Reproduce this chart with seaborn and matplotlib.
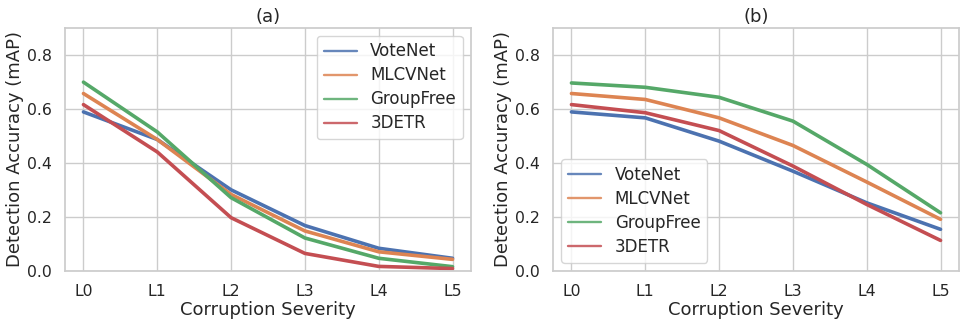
import matplotlib
matplotlib.use("Agg")
import matplotlib.pyplot as plt
import seaborn as sns
import pandas as pd

levels = ["L0", "L1", "L2", "L3", "L4", "L5"]
models = ["VoteNet", "MLCVNet", "GroupFree", "3DETR"]

# panel (a)
a_votenet = [0.588, 0.486, 0.300, 0.168, 0.084, 0.047]
a_mlcvnet = [0.656, 0.486, 0.283, 0.148, 0.071, 0.043]
a_groupfree = [0.698, 0.514, 0.271, 0.122, 0.047, 0.016]
a_3detr = [0.615, 0.440, 0.197, 0.065, 0.017, 0.009]

# panel (b)
b_votenet = [0.588, 0.566, 0.480, 0.369, 0.252, 0.154]
b_mlcvnet = [0.656, 0.634, 0.566, 0.464, 0.329, 0.191]
b_groupfree = [0.695, 0.679, 0.642, 0.554, 0.394, 0.215]
b_3detr = [0.615, 0.585, 0.519, 0.388, 0.246, 0.113]


def make_df(series):
    rows = []
    for m, vals in zip(models, series):
        for lv, v in zip(levels, vals):
            rows.append({"Severity": lv, "mAP": v, "Model": m})
    return pd.DataFrame(rows)


df_a = make_df([a_votenet, a_mlcvnet, a_groupfree, a_3detr])
df_b = make_df([b_votenet, b_mlcvnet, b_groupfree, b_3detr])

sns.set_theme(style="whitegrid", palette="deep")
plt.rcParams["font.family"] = ["DejaVu Sans"]

fig, axes = plt.subplots(1, 2, figsize=(9.64, 3.25), dpi=100)
fig.subplots_adjust(left=65 / 964, right=959 / 964, bottom=1 - 271 / 325,
                    top=1 - 27.5 / 325, wspace=82 / 406)

for ax, df, title, loc in [(axes[0], df_a, "(a)", "upper right"),
                           (axes[1], df_b, "(b)", "lower left")]:
    sns.lineplot(data=df, x="Severity", y="mAP", hue="Model", ax=ax,
                 linewidth=2.6, sort=False)
    ax.set_ylim(0, 0.9)
    ax.set_yticks([0.0, 0.2, 0.4, 0.6, 0.8])
    ax.set_xlabel("Corruption Severity", fontsize=13, labelpad=1)
    ax.set_ylabel("Detection Accuracy (mAP)", fontsize=13, labelpad=2)
    ax.set_title(title, fontsize=13, pad=4)
    ax.tick_params(labelsize=11.3)
    leg = ax.legend(loc=loc, fontsize=12, title=None, labelspacing=0.36)
    for line in leg.get_lines():
        line.set_linewidth(1.7)
        line.set_alpha(0.85)

fig.savefig("out.png", dpi=100)
